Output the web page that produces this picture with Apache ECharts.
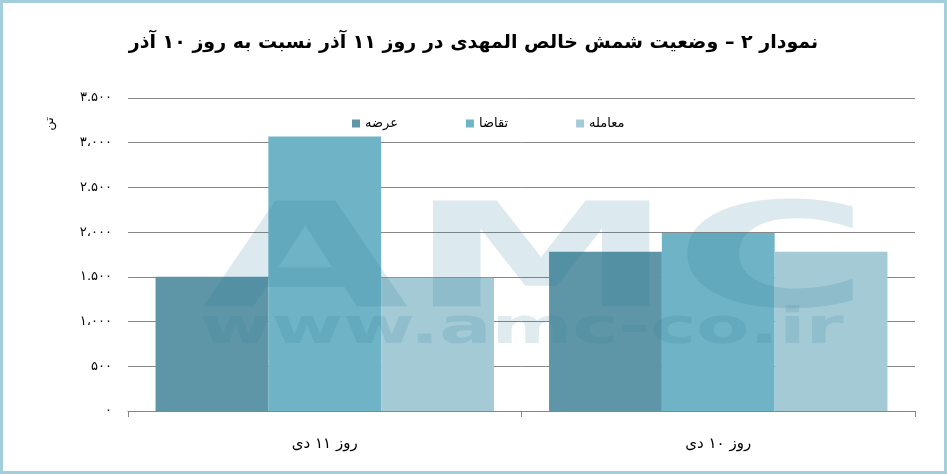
<!DOCTYPE html>
<html>
<head>
<meta charset="utf-8">
<script src="https://cdn.jsdelivr.net/npm/echarts@6/dist/echarts.min.js"></script>
<style>
html,body{margin:0;padding:0;background:#fff;}
#c{width:947px;height:474px;}
</style>
</head>
<body>
<div id="c"></div>
<script>
const categories = ['روز ۱۱ دی', 'روز ۱۰ دی'];
const seriesNames = ['عرضه', 'تقاضا', 'معامله'];
const supply = [1500, 1780];
const demand = [3070, 1990];
const traded = [1490, 1780];
const yTickLabels = ['۰', '۵۰۰', '۱،۰۰۰', '۱.۵۰۰', '۲،۰۰۰', '۲.۵۰۰', '۳،۰۰۰', '۳.۵۰۰'];
const titleText = 'نمودار ۲ – وضعیت شمش خالص المهدی در روز ۱۱ آذر نسبت به روز ۱۰ آذر';
const unitText = 'تن';

const colors = ['#5e96a7', '#6fb3c6', '#a4cad6'];
const chart = echarts.init(document.getElementById('c'));
const mk = (name, data, i) => ({
  name: name, type: 'bar', data: data, barGap: '0%', barCategoryGap: '14%',
  itemStyle: { color: colors[i] }, z: 2
});
chart.setOption({
  animation: false,
  color: colors,
  title: {
    text: titleText, left: 'center', top: 29,
    textStyle: { fontFamily: 'DejaVu Sans', fontWeight: 'bold', fontSize: 19, color: '#000' }
  },
  legend: {
    data: seriesNames, left: 347, top: 112, itemWidth: 8, itemHeight: 8, itemGap: 68,
    icon: 'rect',
    textStyle: { fontFamily: 'DejaVu Sans', fontSize: 13, color: '#000' }
  },
  grid: { left: 128, right: 32, top: 98, bottom: 63 },
  xAxis: {
    type: 'category', data: categories,
    axisLine: { lineStyle: { color: '#868686', width: 1 } },
    axisTick: { show: true, length: 6, lineStyle: { color: '#868686' } },
    axisLabel: { fontFamily: 'DejaVu Sans', fontSize: 15, color: '#000', margin: 26 }
  },
  yAxis: {
    type: 'value', min: 0, max: 3500, interval: 500,
    axisLine: { show: false }, axisTick: { show: false },
    splitLine: { lineStyle: { color: '#868686', width: 1 } },
    axisLabel: {
      fontFamily: 'DejaVu Sans', fontSize: 13, color: '#000', margin: 16,
      formatter: v => yTickLabels[Math.round(v / 500)]
    }
  },
  series: [mk(seriesNames[0], supply, 0), mk(seriesNames[1], demand, 1), mk(seriesNames[2], traded, 2)],
  graphic: [
    { type: 'rect', shape: { x: 1.5, y: 1.5, width: 944, height: 471 },
      style: { fill: null, stroke: '#a3cfdc', lineWidth: 3 }, z: 100 },
    { type: 'text', x: 50, y: 124, rotation: Math.PI / 2,
      style: { text: unitText, fontFamily: 'DejaVu Sans', fontSize: 13, fill: '#000', textAlign: 'center', textVerticalAlign: 'middle' } },
    { type: 'text', x: 202, y: 196, scaleX: 1.84, scaleY: 1,
      style: { text: 'AMC', fontFamily: 'DejaVu Sans', fontWeight: 'bold', fontSize: 145, fill: 'rgba(40,120,150,0.16)', textVerticalAlign: 'top' }, z: 50 },
    { type: 'text', x: 200, y: 305, scaleX: 1.55, scaleY: 1,
      style: { text: 'www.amc-co.ir', fontFamily: 'DejaVu Sans', fontWeight: 'bold', fontSize: 50, fill: 'rgba(40,120,150,0.15)', textVerticalAlign: 'top' }, z: 50 }
  ]
});
</script>
</body>
</html>
